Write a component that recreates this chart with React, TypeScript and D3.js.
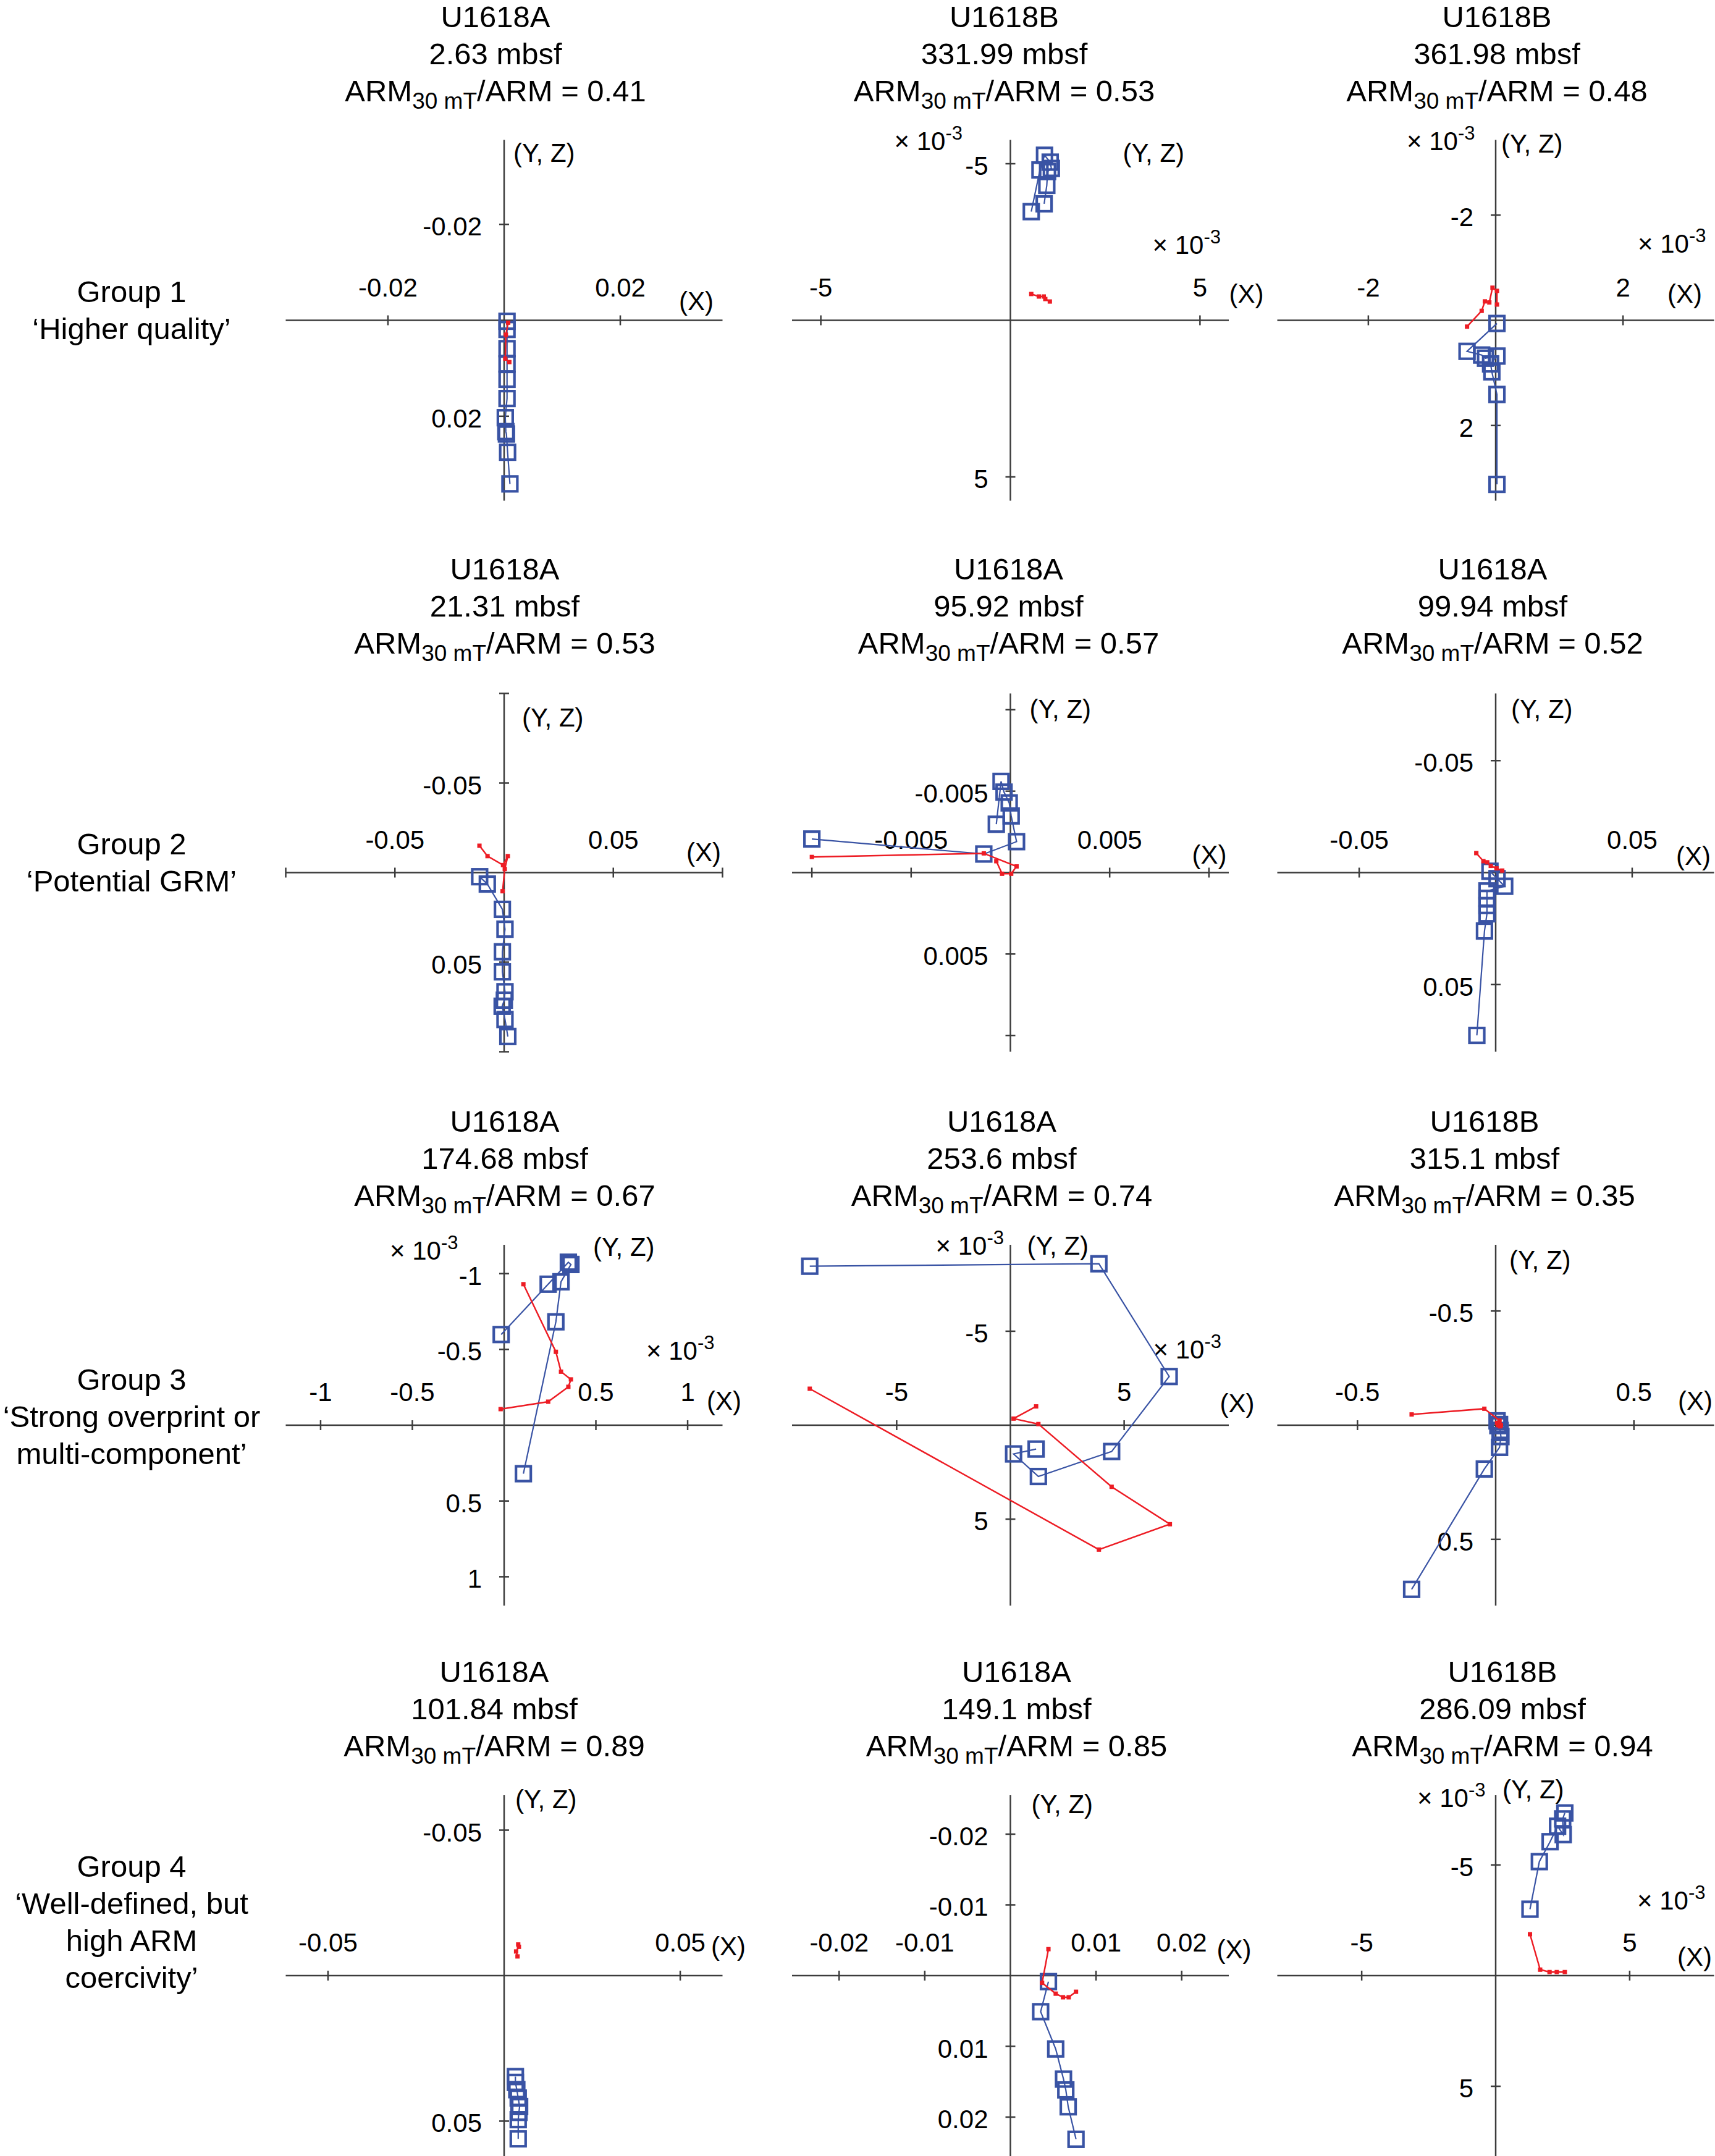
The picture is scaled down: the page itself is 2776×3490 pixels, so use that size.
import React, { useEffect, useRef } from 'react';
import * as d3 from 'd3';

type Pt = [number, number];

// panel headers, left to right, top to bottom
const sites = ['U1618A', 'U1618B', 'U1618B', 'U1618A', 'U1618A', 'U1618A', 'U1618A', 'U1618A', 'U1618B', 'U1618A', 'U1618A', 'U1618B'];
const depths = ['2.63', '331.99', '361.98', '21.31', '95.92', '99.94', '174.68', '253.6', '315.1', '101.84', '149.1', '286.09'];
const ratios = ['0.41', '0.53', '0.48', '0.53', '0.57', '0.52', '0.67', '0.74', '0.35', '0.89', '0.85', '0.94'];

const groupLabels = [
  ['Group 1', '\u2018Higher quality\u2019'],
  ['Group 2', '\u2018Potential GRM\u2019'],
  ['Group 3', '\u2018Strong overprint or', 'multi-component\u2019'],
  ['Group 4', '\u2018Well-defined, but', 'high ARM', 'coercivity\u2019'],
];

// half range of both axes (panels flagged in scaledE3 are in units of 10^-3)
const axisHalf = [0.0376, 5.76, 3.43, 0.1, 0.011, 0.08, 1.19, 9.6, 0.79, 0.062, 0.0255, 8.15];
const scaledE3 = [false, true, true, false, false, false, true, true, false, false, false, true];
const tickValues = [
  [-0.02, 0.02], [-5, 5], [-2, 2],
  [-0.1, -0.05, 0.05, 0.1], [-0.01, -0.005, 0.005, 0.01], [-0.05, 0.05],
  [-1, -0.5, 0.5, 1], [-5, 5], [-0.5, 0.5],
  [-0.05, 0.05], [-0.02, -0.01, 0.01, 0.02], [-5, 5],
];
const tickLabels = [
  [-0.02, 0.02], [-5, 5], [-2, 2],
  [-0.05, 0.05], [-0.005, 0.005], [-0.05, 0.05],
  [-1, -0.5, 0.5, 1], [-5, 5], [-0.5, 0.5],
  [-0.05, 0.05], [-0.02, -0.01, 0.01, 0.02], [-5, 5],
];

// vertical projection (squares) and horizontal projection (red dots), [X, Y/Z]
const p1Blue: Pt[] = [[0.001, 0.0341], [0.0006, 0.0275], [0.0004, 0.0237], [0.0003, 0.0232], [0.0002, 0.0203], [0.0005, 0.0163], [0.0005, 0.0123], [0.0005, 0.0091], [0.0005, 0.0059], [0.0005, 0.0019], [0.0005, 0.0002]];
const p1Red: Pt[] = [[0.0007, 0.0005], [0.0003, 0.003], [0.0002, 0.008], [0.0009, 0.0087]];
const p2Blue: Pt[] = [[0.55, -3.47], [0.78, -4.8], [0.9, -5.27], [1.05, -5.05], [1.08, -4.85], [0.98, -4.75], [0.96, -4.31], [0.89, -3.72]];
const p2Red: Pt[] = [[0.55, -0.84], [0.75, -0.76], [0.88, -0.76], [0.92, -0.68], [1.04, -0.6]];
const p3Blue: Pt[] = [[0.02, 3.12], [0.02, 1.41], [-0.06, 0.98], [-0.08, 0.83], [0.02, 0.68], [-0.16, 0.72], [-0.22, 0.66], [-0.45, 0.59], [0.02, 0.06]];
const p3Red: Pt[] = [[0.02, -0.3], [0.02, -0.56], [-0.05, -0.62], [-0.1, -0.34], [-0.17, -0.36], [-0.22, -0.18], [-0.45, 0.12]];
const p4Blue: Pt[] = [[0.0017, 0.0915], [0.0004, 0.082], [-0.0009, 0.0746], [0.0001, 0.0712], [0.0004, 0.0665], [-0.0008, 0.0554], [-0.0008, 0.0442], [0.0004, 0.0316], [-0.0008, 0.0205], [-0.0077, 0.0064], [-0.0112, 0.0023]];
const p4Red: Pt[] = [[-0.0007, 0.0104], [0.0003, -0.002], [0.0017, -0.0092], [-0.0005, -0.0042], [-0.0076, -0.0092], [-0.0113, -0.015]];
const p5Blue: Pt[] = [[-0.01, -0.00206], [-0.00134, -0.00114], [0.00031, -0.0019], [0.00004, -0.00348], [-0.00006, -0.00428], [-0.00032, -0.00494], [-0.00047, -0.0056], [-0.00071, -0.00297]];
const p5Red: Pt[] = [[-0.01, -0.00096], [-0.00134, -0.00118], [0.00031, -0.00038], [0.00004, 0.00007], [-0.00042, 0.00007], [-0.00071, -0.0007]];
const p6Blue: Pt[] = [[-0.0069, 0.0727], [-0.0041, 0.0261], [-0.0032, 0.0184], [-0.0032, 0.0147], [-0.0032, 0.0115], [-0.0032, 0.0082], [0.0033, 0.0061], [0.0005, 0.0027], [-0.0021, -0.0006]];
const p6Red: Pt[] = [[-0.0071, -0.0087], [-0.0045, -0.0051], [-0.0031, -0.0046], [-0.0018, -0.003], [0.0003, -0.0019], [0.0024, -0.0009]];
const p7Blue: Pt[] = [[0.105, 0.32], [0.282, -0.682], [0.31, -0.946], [0.364, -1.06], [0.35, -1.075], [0.24, -0.93], [-0.016, -0.598]];
const p7Red: Pt[] = [[0.105, -0.93], [0.282, -0.484], [0.31, -0.353], [0.364, -0.302], [0.35, -0.253], [0.24, -0.155], [-0.019, -0.106]];
const p8Blue: Pt[] = [[-8.82, -8.46], [3.89, -8.59], [6.98, -2.59], [4.45, 1.4], [1.23, 2.73], [0.14, 1.53], [1.13, 1.27]];
const p8Red: Pt[] = [[-8.82, -1.94], [3.89, 6.62], [7.01, 5.27], [4.45, 3.28], [1.23, -0.06], [0.14, -0.35], [1.13, -1.0]];
const p9Blue: Pt[] = [[-0.304, 0.719], [-0.041, 0.192], [0.014, 0.097], [0.019, 0.05], [0.016, 0.023], [0.008, 0.002], [0.005, -0.019], [0.014, -0.003]];
const p9Red: Pt[] = [[-0.304, -0.047], [-0.041, -0.072], [0.014, -0.02], [0.019, 0.0], [0.016, 0.005], [0.008, 0.0], [0.005, -0.01], [0.014, 0.0]];
const p10Blue: Pt[] = [[0.004, 0.0561], [0.004, 0.0495], [0.0042, 0.047], [0.0044, 0.045], [0.004, 0.0421], [0.0036, 0.0392], [0.0032, 0.0367], [0.0032, 0.0347]];
const p10Red: Pt[] = [[0.004, -0.0107], [0.0042, -0.0099], [0.0034, -0.0083], [0.0038, -0.0066]];
const p11Blue: Pt[] = [[0.00766, 0.02313], [0.00675, 0.01854], [0.00647, 0.01616], [0.0062, 0.01463], [0.00529, 0.01037], [0.00353, 0.0051], [0.00444, 0.00085]];
const p11Red: Pt[] = [[0.00766, 0.00228], [0.00681, 0.00306], [0.00614, 0.00306], [0.00529, 0.00255], [0.0037, 0.00102], [0.00444, -0.00374]];
const p12Blue: Pt[] = [[1.28, -3.0], [1.63, -5.15], [2.03, -6.05], [2.31, -6.75], [2.52, -6.37], [2.5, -7.08], [2.58, -7.35]];
const p12Red: Pt[] = [[1.28, -1.87], [1.66, -0.27], [2.01, -0.16], [2.28, -0.16], [2.58, -0.16]];

const blueSeries = [p1Blue, p2Blue, p3Blue, p4Blue, p5Blue, p6Blue, p7Blue, p8Blue, p9Blue, p10Blue, p11Blue, p12Blue];
const redSeries = [p1Red, p2Red, p3Red, p4Red, p5Red, p6Red, p7Red, p8Red, p9Red, p10Red, p11Red, p12Red];

// layout (pixels)
const W = 2776;
const H = 3490;
const colX = [816, 1635.5, 2421];
const rowY = [518.5, 1412.5, 2307, 3198];
const halfW = 353.5;
const halfH = [292, 290, 292, 292];
const FONT = "'Liberation Sans', Arial, Helvetica, sans-serif";
const BLUE = '#3953a4';
const RED = '#ed1c24';
const AXIS = '#3c3c3c';
const SQ = 24;

// label offsets relative to each panel origin
const yzPos: Pt[] = [[15, -257], [182, -257], [9, -272], [29, -237], [31, -251], [25, -251], [144, -274], [27, -276], [22, -253], [18, -271], [34, -263], [11, -287]];
const xPos: Pt[] = [[283, -17], [354, -29], [278, -29], [295, -19], [294, -15], [292, -13], [328, -25], [339, -21], [295, -25], [335, -33], [334, -28], [294, -16]];
const multLeft: (Pt | null)[] = [null, [-188, -276], [-144, -276], null, null, null, [-185, -268], [-121, -276], null, null, null, [-127, -273]];
const multRight: (Pt | null)[] = [null, [230, -108], [230, -110], null, null, null, [230, -106], [231, -108], null, null, null, [229, -107]];
const titleDx = [-14, -10, 2, 1, -3, -5, 1, -14, -18, -16, 10, 11];
const groupFirstLine = [-30, -30, -57, -160];

const App: React.FC = () => {
  const svgRef = useRef<SVGSVGElement | null>(null);

  useEffect(() => {
    const svg = d3.select(svgRef.current);
    svg.selectAll('*').remove();
    svg.append('rect').attr('width', W).attr('height', H).attr('fill', '#fff');

    // group labels on the left
    groupLabels.forEach((lines, r) => {
      const t = svg
        .append('text')
        .attr('font-family', FONT)
        .attr('font-size', 49)
        .attr('text-anchor', 'middle');
      lines.forEach((line, k) => {
        t.append('tspan')
          .attr('x', 213)
          .attr('y', rowY[r] + groupFirstLine[r] + k * 60)
          .text(line);
      });
    });

    blueSeries.forEach((blue, i) => {
      const col = i % 3;
      const row = Math.floor(i / 3);
      const ox = colX[col];
      const oy = rowY[row];
      const D = axisHalf[i];
      const hh = halfH[row];

      const x = d3.scaleLinear().domain([-D, D]).range([ox - halfW, ox + halfW]);
      const y = d3.scaleLinear().domain([-D, D]).range([oy - hh, oy + hh]);

      const g = svg.append('g').attr('font-family', FONT);

      // titles
      const tx = ox + titleDx[i];
      const title = g.append('text').attr('text-anchor', 'middle').attr('font-size', 49);
      title.append('tspan').attr('x', tx).attr('y', oy - 475).text(sites[i]);
      title.append('tspan').attr('x', tx).attr('y', oy - 415).text(`${depths[i]} mbsf`);
      const arm = g
        .append('text')
        .attr('text-anchor', 'middle')
        .attr('font-size', 49)
        .attr('x', tx)
        .attr('y', oy - 355);
      arm.append('tspan').text('ARM');
      arm.append('tspan').attr('font-size', 37).attr('dy', 12).text('30 mT');
      arm.append('tspan').attr('dy', -12).text(`/ARM = ${ratios[i]}`);

      // axes
      g.append('line')
        .attr('x1', x(-D)).attr('x2', x(D))
        .attr('y1', y(0)).attr('y2', y(0))
        .attr('stroke', AXIS).attr('stroke-width', 2.5);
      g.append('line')
        .attr('x1', x(0)).attr('x2', x(0))
        .attr('y1', y(-D)).attr('y2', y(D))
        .attr('stroke', AXIS).attr('stroke-width', 2.5);

      tickValues[i].forEach(t => {
        g.append('line')
          .attr('x1', x(t)).attr('x2', x(t))
          .attr('y1', y(0) - 8).attr('y2', y(0) + 8)
          .attr('stroke', AXIS).attr('stroke-width', 2.5);
        g.append('line')
          .attr('x1', x(0) - 8).attr('x2', x(0) + 8)
          .attr('y1', y(t)).attr('y2', y(t))
          .attr('stroke', AXIS).attr('stroke-width', 2.5);
      });

      tickLabels[i].forEach(t => {
        g.append('text')
          .attr('x', x(t)).attr('y', y(0) - 39)
          .attr('text-anchor', 'middle').attr('font-size', 42)
          .text(String(t));
        g.append('text')
          .attr('x', x(0) - 36).attr('y', y(t) + 18)
          .attr('text-anchor', 'end').attr('font-size', 42)
          .text(String(t));
      });

      // axis names
      g.append('text')
        .attr('x', ox + yzPos[i][0]).attr('y', oy + yzPos[i][1])
        .attr('font-size', 42).text('(Y, Z)');
      g.append('text')
        .attr('x', ox + xPos[i][0]).attr('y', oy + xPos[i][1])
        .attr('font-size', 42).text('(X)');

      if (scaledE3[i]) {
        [multLeft[i], multRight[i]].forEach(p => {
          if (!p) return;
          const m = g.append('text').attr('x', ox + p[0]).attr('y', oy + p[1]).attr('font-size', 42);
          m.append('tspan').text('\u00d7 10');
          m.append('tspan').attr('font-size', 31).attr('dy', -17).text('-3');
        });
      }

      const line = d3
        .line<Pt>()
        .x(d => x(d[0]))
        .y(d => y(d[1]));

      // vertical projection
      g.append('path')
        .attr('d', line(blue))
        .attr('fill', 'none')
        .attr('stroke', BLUE)
        .attr('stroke-width', 2.2);
      g.selectAll('.sq')
        .data(blue)
        .enter()
        .append('rect')
        .attr('x', d => x(d[0]) - SQ / 2)
        .attr('y', d => y(d[1]) - SQ / 2)
        .attr('width', SQ)
        .attr('height', SQ)
        .attr('fill', 'none')
        .attr('stroke', BLUE)
        .attr('stroke-width', 4.2);

      // horizontal projection
      const red = redSeries[i];
      g.append('path')
        .attr('d', line(red))
        .attr('fill', 'none')
        .attr('stroke', RED)
        .attr('stroke-width', 2.5);
      g.selectAll('.dot')
        .data(red)
        .enter()
        .append('rect')
        .attr('x', d => x(d[0]) - 3.5)
        .attr('y', d => y(d[1]) - 3.5)
        .attr('width', 7)
        .attr('height', 7)
        .attr('fill', RED);
    });
  }, []);

  return (
    <svg
      ref={svgRef}
      width={W}
      height={H}
      style={{ position: 'absolute', left: 0, top: 0, display: 'block' }}
    ></svg>
  );
};

export default App;
